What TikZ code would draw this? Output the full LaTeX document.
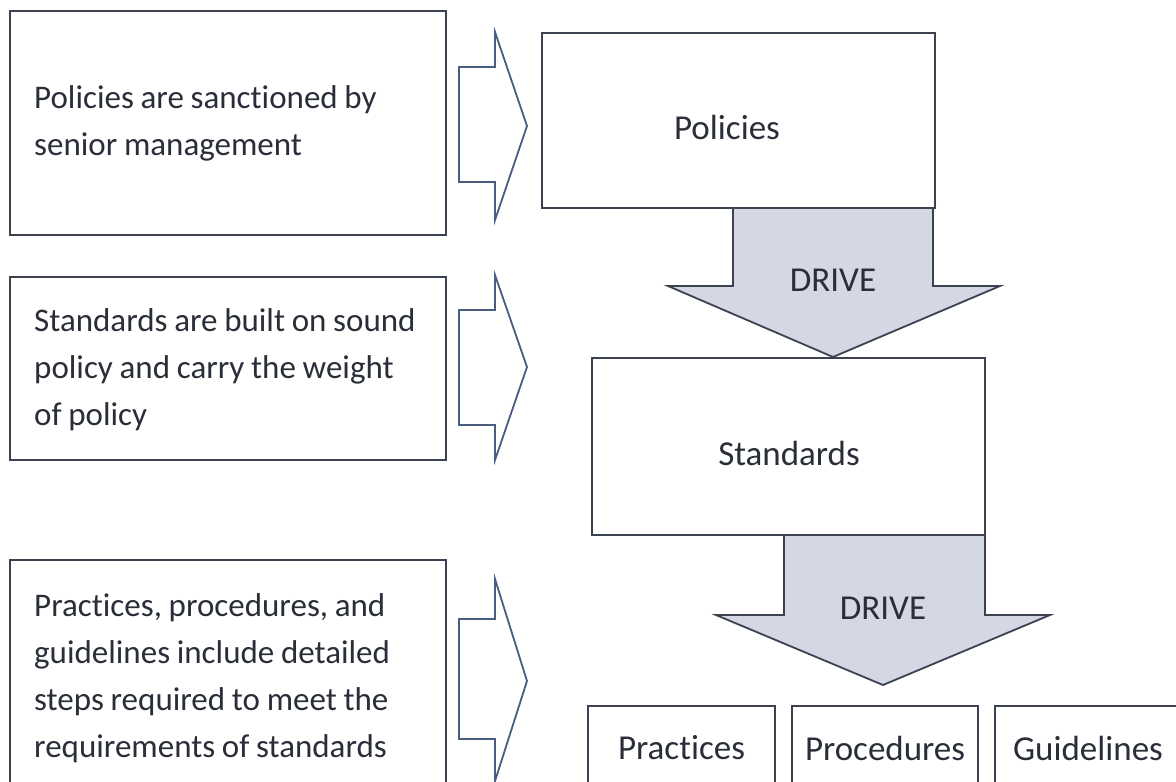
\documentclass[tikz,border=0pt]{standalone}
\usepackage{fontspec}
\setmainfont{Carlito}[WordSpace=0.9, Ligatures={NoCommon,NoContextual}]
\definecolor{lineC}{HTML}{3C4250}
\definecolor{arrowC}{HTML}{4A5C80}
\definecolor{fillC}{HTML}{D4D8E4}
\definecolor{textC}{HTML}{2A2E38}
\begin{document}
\begin{tikzpicture}[x=1pt,y=-1pt,
  box/.style={draw=lineC, line width=2pt, fill=white, inner sep=0pt, text=textC},
  lefttext/.style={anchor=west, align=left, inner sep=0pt, text=textC, font=\fontsize{33}{47}\selectfont},
  bigtext/.style={font=\fontsize{35}{42}\selectfont, text=textC},
  blockarrow/.style={draw=arrowC, line width=1.8pt, line join=miter, fill=white},
  drivearrow/.style={draw=lineC, line width=1.8pt, line join=miter, fill=fillC}]
\useasboundingbox (0,0) rectangle (1176,782);
\fill[white] (0,0) rectangle (1176,782);

% left text boxes
\node[box, minimum width=436pt, minimum height=224pt] (lb1) at (228,123) {};
\node[lefttext] (lb1t) at (34,123) {Policies are sanc\kern0pt tioned by\\senior management};
\node[box, minimum width=436pt, minimum height=183pt] (lb2) at (228,368.5) {};
\node[lefttext] (lb2t) at (34,370) {Standards are built on sound\\policy and carry the weight\\of policy};
\node[box, minimum width=436pt, minimum height=236pt] (lb3) at (228,678) {};
\node[lefttext] (lb3t) at (34,678) {Practices, procedures, and\\guidelines include detailed\\steps required to meet the\\requirements of standards};

% hollow block arrows
\draw[blockarrow] (459,67) -- (495,67) -- (495,32) -- (527,126) -- (495,220) -- (495,182) -- (459,182) -- cycle;
\draw[blockarrow] (459,310) -- (495,310) -- (495,275) -- (527,367) -- (495,460) -- (495,425) -- (459,425) -- cycle;
\draw[blockarrow] (459,619) -- (495,619) -- (495,579) -- (527,681) -- (495,781) -- (495,739) -- (459,739) -- cycle;

% DRIVE arrows
\draw[drivearrow] (733,208) -- (933,208) -- (933,286) -- (1000,286) -- (833,357) -- (668,286) -- (733,286) -- cycle;
\node[bigtext] (d1) at (833,280) {DRIVE};
\draw[drivearrow] (784,535) -- (985,535) -- (985,615) -- (1050,615) -- (883,685) -- (716,615) -- (784,615) -- cycle;
\node[bigtext] (d2) at (883,608) {DRIVE};

% right boxes
\node[box, minimum width=393pt, minimum height=175pt] (pol) at (738.5,120.5) {};
\node[bigtext] (polt) at (727,127) {Policies};
\node[box, minimum width=393pt, minimum height=177pt] (std) at (788.5,446.5) {};
\node[bigtext] (stdt) at (789,453) {Standards};
\node[box, bigtext, minimum width=187pt, minimum height=84pt] (prac) at (681.5,748) {Practices};
\node[box, bigtext, minimum width=186pt, minimum height=84pt] (proc) at (885,748) {Procedures};
\node[box, bigtext, minimum width=186pt, minimum height=84pt] (guid) at (1088,748) {Guidelines};
\end{tikzpicture}
\end{document}
